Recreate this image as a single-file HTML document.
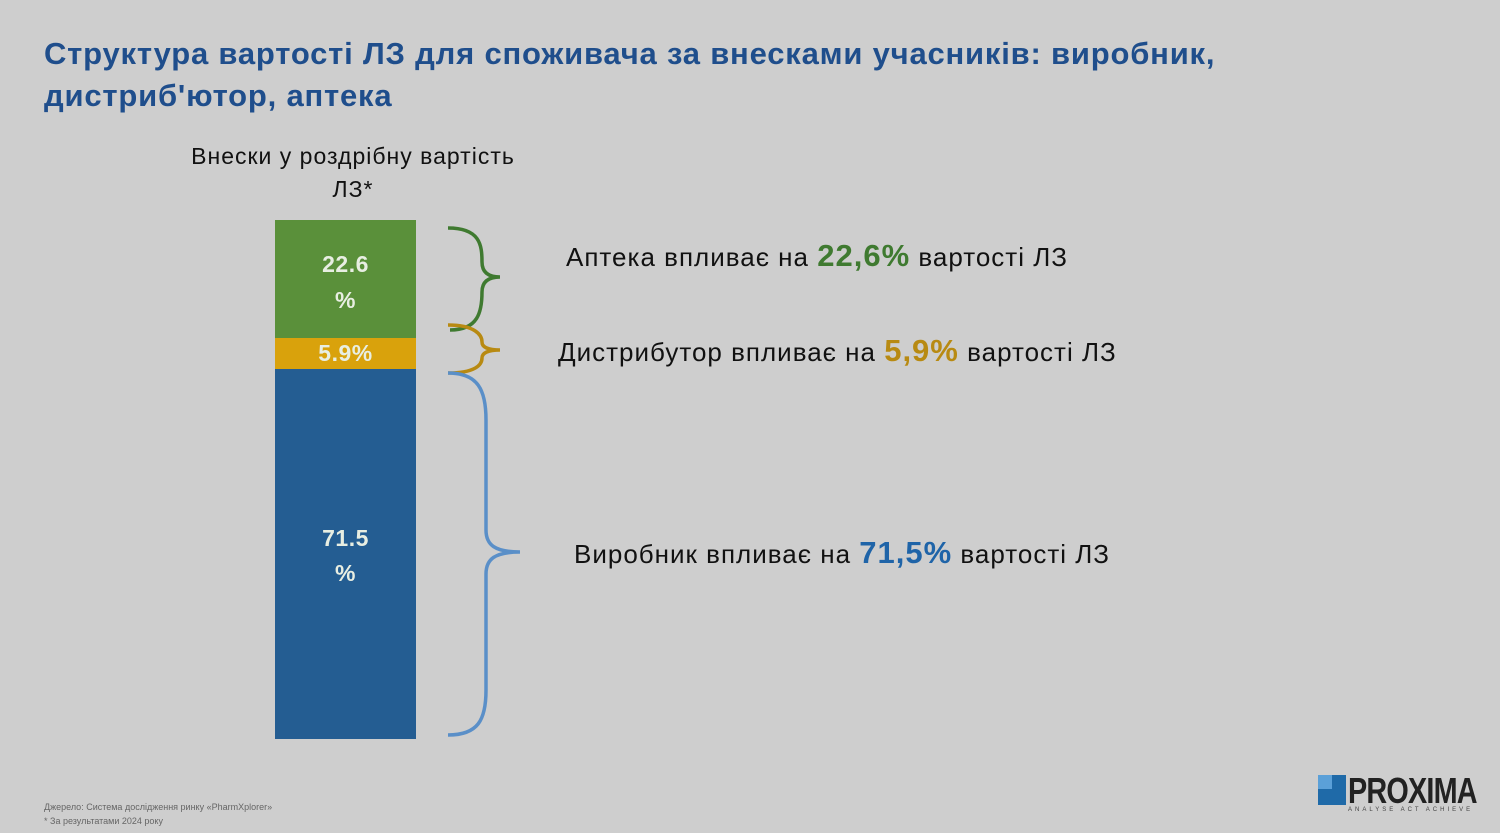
<!DOCTYPE html>
<html><head><meta charset="utf-8"><style>
body{margin:0;width:1500px;height:833px;background:#cecece;position:relative;overflow:hidden;font-family:"Liberation Sans","DejaVu Sans",sans-serif}
.t{position:absolute;left:44px;top:33px;font-size:31px;font-weight:bold;color:#1f4e8c;line-height:42px;letter-spacing:0.8px}
.a{position:absolute;white-space:nowrap}
.seg{position:absolute;left:275px;width:141px;color:#e8eee2;font-size:23px;font-weight:bold;text-align:center;letter-spacing:0.5px}
</style></head><body>
<div class="t">Структура вартості ЛЗ для споживача за внесками учасників: виробник,<br>дистриб'ютор, аптека</div>
<div class="a" style="left:175px;top:140px;font-size:23px;color:#111;text-align:center;width:356px;line-height:33px;letter-spacing:1px">Внески у роздрібну вартість<br>ЛЗ*</div>
<div class="seg" style="top:220px;height:118px;background:#5a903a;line-height:36px"><div style="padding-top:26px">22.6<br>%</div></div>
<div class="seg" style="top:338px;height:31px;background:#d9a20c;line-height:31px">5.9%</div>
<div class="seg" style="top:369px;height:370px;background:#245d92;line-height:35px"><div style="padding-top:152px">71.5<br>%</div></div>
<svg class="a" style="left:0;top:0" width="1500" height="833">
<path d="M448 228 C480 228 482 245 482 262 C482 272 488 277 500 277 C488 277 482 282 482 292 C482 312 478 330 450 330" fill="none" stroke="#3f7a30" stroke-width="3.5"/>
<path d="M448 325 C475 325 482 335 482 342 C482 347 488 350 500 350 C488 350 482 353 482 358 C482 365 475 373 448 373" fill="none" stroke="#b88a12" stroke-width="3.5"/>
<path d="M448 373 C478 373 486 390 486 420 L486 530 C486 545 495 552 520 552 C495 552 486 559 486 574 L486 690 C486 720 478 735 448 735" fill="none" stroke="#5a8fc8" stroke-width="3.5"/>
<rect x="1318" y="775" width="28" height="30" fill="#1f6aa8"/>
<rect x="1318" y="775" width="14" height="14" fill="#5ba0d8"/>
</svg>
<div class="a" style="left:566px;top:238px;font-size:26px;color:#111;letter-spacing:1px">Аптека впливає на <b style="color:#3f7a30;font-size:31px">22,6%</b> вартості ЛЗ</div>
<div class="a" style="left:558px;top:333px;font-size:26px;color:#111;letter-spacing:1px">Дистрибутор впливає на <b style="color:#b88a12;font-size:31px">5,9%</b> вартості ЛЗ</div>
<div class="a" style="left:574px;top:535px;font-size:26px;color:#111;letter-spacing:1px">Виробник впливає на <b style="color:#1f64a8;font-size:31px">71,5%</b> вартості ЛЗ</div>
<div class="a" style="left:44px;top:800px;font-size:9px;color:#666;line-height:14px">Джерело: Система дослідження ринку «PharmXplorer»<br>* За результатами 2024 року</div>
<div class="a" style="left:1348px;top:770px;font-size:36px;font-weight:bold;color:#222;transform:scaleX(0.8);transform-origin:left;letter-spacing:-1px">PROXIMA</div>
<div class="a" style="left:1348px;top:807px;font-size:6px;color:#444;letter-spacing:3px">ANALYSE ACT ACHIEVE</div>
</body></html>
